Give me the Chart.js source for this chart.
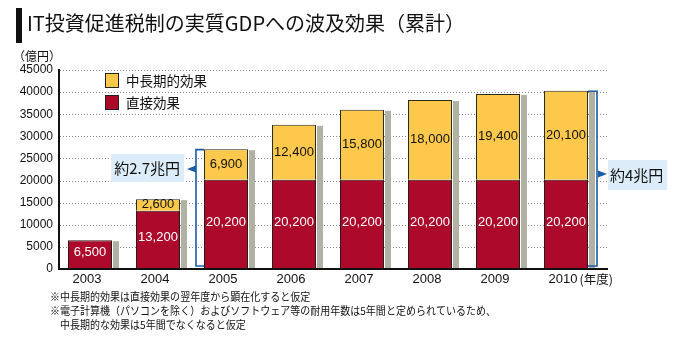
<!DOCTYPE html>
<html>
<head>
<meta charset="utf-8">
<script src="https://cdn.jsdelivr.net/npm/chart.js@4.4.1/dist/chart.umd.min.js"></script>
<style>
  html, body { margin: 0; padding: 0; background: #fff; }
  canvas { display: block; }
</style>
</head>
<body>
<canvas id="c" width="680" height="340"></canvas>
<script>
// ---- data ----
const categories = ['2003', '2004', '2005', '2006', '2007', '2008', '2009', '2010'];
const directEffect = [6500, 13200, 20200, 20200, 20200, 20200, 20200, 20200];
const midLongEffect = [null, 2600, 6900, 12400, 15800, 18000, 19400, 20100];
const seriesLabels = ['直接効果', '中長期的効果'];
const yMax = 45000;
const yStep = 5000;
const titleText = 'IT投資促進税制の実質GDPへの波及効果（累計）';
const unitText = '（億円）';
const yearSuffix = '(年度)';
const bracketIndex = [2, 7];
const bracketLabel = ['約2.7兆円', '約4兆円'];
const bracketSide = ['left', 'right'];
const bracketAnchor = [22600, 21500];
const footnotes = [
  '※中長期的効果は直接効果の翌年度から顕在化すると仮定',
  '※電子計算機（パソコンを除く）およびソフトウェア等の耐用年数は5年間と定められているため、',
  '　中長期的な効果は5年間でなくなると仮定'
];

// ---- styles ----
const RED = '#ad0a2b';
const YELLOW = '#fdc84b';
const SHADOW = '#b2b2a4';
const BLUE = '#1c5ca6';
const BOXBLUE = '#dcecf9';
const CJK = '"Noto Sans CJK JP", "Noto Sans", sans-serif';
const LAT = '"Liberation Sans", Arial, sans-serif';

function fmt(v) { return v.toLocaleString('en-US'); }

const decorPlugin = {
  id: 'decor',
  beforeDatasetsDraw(chart) {
    const ctx = chart.ctx;
    const ys = chart.scales.y;
    const area = chart.chartArea;
    // dotted gridlines
    ctx.save();
    ctx.strokeStyle = '#8c8c80';
    ctx.lineWidth = 1;
    ctx.setLineDash([1, 2]);
    ys.ticks.forEach(t => {
      if (t.value === 0) return;
      const y = Math.round(ys.getPixelForValue(t.value)) + 0.5;
      ctx.beginPath();
      ctx.moveTo(area.left + 4, y);
      ctx.lineTo(area.right + 8, y);
      ctx.stroke();
    });
    ctx.restore();
    // shadows behind each bar stack
    const m0 = chart.getDatasetMeta(0), m1 = chart.getDatasetMeta(1);
    const zero = ys.getPixelForValue(0);
    ctx.save();
    ctx.fillStyle = SHADOW;
    categories.forEach((c, i) => {
      const top = midLongEffect[i] != null ? m1.data[i] : m0.data[i];
      const p = top.getProps(['x', 'y', 'width'], true);
      const x0 = p.x + p.width / 2 + 1;
      ctx.fillRect(x0, p.y + 1, 6, zero - p.y - 1);
    });
    ctx.restore();
  },
  afterDatasetsDraw(chart) {
    const ctx = chart.ctx;
    const ys = chart.scales.y;
    const area = chart.chartArea;
    const m0 = chart.getDatasetMeta(0), m1 = chart.getDatasetMeta(1);
    // value labels
    ctx.save();
    ctx.textAlign = 'center';
    ctx.textBaseline = 'middle';
    ctx.font = '13px ' + LAT;
    [[m0, directEffect, '#ffffff', -2], [m1, midLongEffect, '#111111', 0]].forEach(([meta, arr, col, dy]) => {
      ctx.fillStyle = col;
      arr.forEach((v, i) => {
        if (v == null) return;
        const p = meta.data[i].getProps(['x', 'y', 'base'], true);
        ctx.fillText(fmt(v), p.x, (p.y + p.base) / 2 + dy);
      });
    });
    ctx.restore();

    // axis lines
    const zero = ys.getPixelForValue(0);
    ctx.save();
    ctx.strokeStyle = '#111';
    ctx.lineWidth = 2;
    ctx.beginPath();
    ctx.moveTo(area.left + 3, ys.getPixelForValue(yMax) - 1);
    ctx.lineTo(area.left + 3, zero);
    ctx.stroke();
    ctx.beginPath();
    ctx.moveTo(area.left + 2, zero);
    ctx.lineTo(area.right + 8, zero);
    ctx.stroke();
    ctx.restore();

    // brackets with labels
    bracketIndex.forEach((idx, k) => {
      const topEl = midLongEffect[idx] != null ? m1.data[idx] : m0.data[idx];
      const p = topEl.getProps(['x', 'y', 'width'], true);
      const left = p.x - p.width / 2, right = p.x + p.width / 2;
      const yTop = p.y, yBot = zero - 3;
      const ya = ys.getPixelForValue(bracketAnchor[k]);
      ctx.save();
      ctx.strokeStyle = BLUE;
      ctx.fillStyle = BLUE;
      ctx.lineWidth = 1.6;
      ctx.font = '15px ' + CJK;
      ctx.textBaseline = 'middle';
      const tw = ctx.measureText(bracketLabel[k]).width;
      if (bracketSide[k] === 'left') {
        const bx = left - 8;
        ctx.beginPath();
        ctx.moveTo(left, yTop + 0.5);
        ctx.lineTo(bx, yTop + 0.5);
        ctx.lineTo(bx, yBot);
        ctx.lineTo(left, yBot);
        ctx.stroke();
        ctx.beginPath();
        ctx.moveTo(bx - 9, ya);
        ctx.lineTo(bx, ya - 3.5);
        ctx.lineTo(bx, ya + 3.5);
        ctx.closePath();
        ctx.fill();
        const boxR = bx - 12, boxL = boxR - tw - 7;
        ctx.fillStyle = BOXBLUE;
        ctx.fillRect(boxL, ya - 15, boxR - boxL, 28);
        ctx.fillStyle = '#111';
        ctx.textAlign = 'left';
        ctx.fillText(bracketLabel[k], boxL + 3, ya - 1);
      } else {
        const bx = right + 9;
        ctx.beginPath();
        ctx.moveTo(right, yTop + 0.5);
        ctx.lineTo(bx, yTop + 0.5);
        ctx.lineTo(bx, yBot);
        ctx.lineTo(right, yBot);
        ctx.stroke();
        ctx.beginPath();
        ctx.moveTo(bx + 10, ya);
        ctx.lineTo(bx + 1, ya - 3.5);
        ctx.lineTo(bx + 1, ya + 3.5);
        ctx.closePath();
        ctx.fill();
        const boxL = bx + 11;
        ctx.fillStyle = BOXBLUE;
        ctx.fillRect(boxL, ya - 14, tw + 6, 30);
        ctx.fillStyle = '#111';
        ctx.textAlign = 'left';
        ctx.fillText(bracketLabel[k], boxL + 2, ya + 1);
      }
      ctx.restore();
    });
  },
  afterDraw(chart) {
    const ctx = chart.ctx;
    const xs = chart.scales.x;
    ctx.save();
    // title
    ctx.fillStyle = '#111';
    ctx.fillRect(16, 8, 6, 35);
    ctx.font = '20px ' + CJK;
    ctx.textBaseline = 'middle';
    ctx.textAlign = 'left';
    ctx.fillText(titleText, 27, 23);
    // unit
    ctx.font = '12px ' + CJK;
    ctx.fillText(unitText, 13, 56);
    // legend
    const items = [[seriesLabels[1], YELLOW, 81], [seriesLabels[0], RED, 103]];
    items.forEach(([lab, col, y]) => {
      ctx.fillStyle = col;
      ctx.fillRect(105, y - 8, 14, 15);
      ctx.strokeStyle = '#222';
      ctx.lineWidth = 1;
      ctx.strokeRect(105.5, y - 7.5, 13, 14);
      ctx.fillStyle = '#111';
      ctx.font = '13.5px ' + CJK;
      ctx.fillText(lab, 126, y);
    });
    // year suffix after last tick label
    ctx.font = '13px ' + LAT;
    const lastX = xs.getPixelForTick(categories.length - 1) - 3;
    const lw = ctx.measureText(categories[categories.length - 1]).width;
    ctx.font = '12.5px ' + CJK;
    ctx.fillText(yearSuffix, lastX + lw / 2 + 2, 279);
    // footnotes
    ctx.font = '11px ' + CJK;
    footnotes.forEach((f, i) => {
      ctx.save();
      ctx.translate(50, 297 + i * 14);
      ctx.scale(0.91, 1);
      ctx.fillText(f, 0, 0);
      ctx.restore();
    });
    ctx.restore();
  }
};

new Chart(document.getElementById('c'), {
  type: 'bar',
  data: {
    labels: categories,
    datasets: [
      {
        label: seriesLabels[0],
        data: directEffect,
        backgroundColor: RED,
        borderColor: '#2a1a1a',
        borderWidth: 1,
        borderSkipped: false,
        barPercentage: 0.647,
        categoryPercentage: 1
      },
      {
        label: seriesLabels[1],
        data: midLongEffect,
        backgroundColor: YELLOW,
        borderColor: '#2a2a1a',
        borderWidth: 1,
        borderSkipped: 'start',
        barPercentage: 0.647,
        categoryPercentage: 1
      }
    ]
  },
  options: {
    responsive: false,
    animation: false,
    layout: { padding: { top: 70, right: 80, left: 0, bottom: 0 } },
    plugins: { legend: { display: false }, tooltip: { enabled: false } },
    scales: {
      x: {
        stacked: true,
        grid: { display: false, drawTicks: false },
        border: { display: false },
        ticks: { font: { family: LAT, size: 13 }, color: '#111', padding: 3, labelOffset: -3, maxRotation: 0 },
        afterFit: s => { s.height = 71; }
      },
      y: {
        stacked: true,
        min: 0,
        max: yMax,
        grid: { display: false, drawTicks: false },
        border: { display: false },
        ticks: { stepSize: yStep, font: { family: LAT, size: 12 }, color: '#111', padding: 3, callback: v => String(v) },
        afterFit: s => { s.width = 56; }
      }
    }
  },
  plugins: [decorPlugin]
});
</script>
</body>
</html>
